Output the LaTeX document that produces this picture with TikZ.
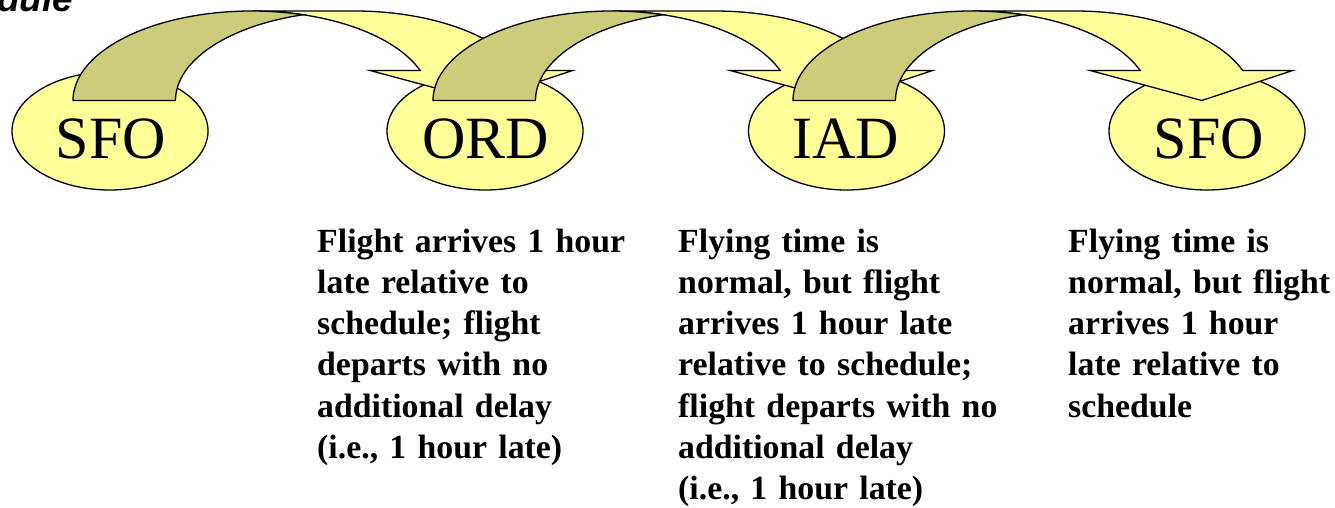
\documentclass[tikz,border=0pt]{standalone}
\usepackage{fontspec}
\setmainfont{Liberation Serif}
\newfontfamily\headfont{Liberation Sans}
\usetikzlibrary{shapes.geometric}
\definecolor{lightyel}{RGB}{255,255,153}
\definecolor{darkyel}{RGB}{204,204,122}
\tikzset{
  apt/.style={ellipse, draw=black, line width=1.3pt, fill=lightyel,
    minimum width=196pt, minimum height=118pt, inner sep=0pt},
  aptlabel/.style={anchor=base, inner sep=0pt, font=\fontsize{60}{60}\selectfont},
  notetext/.style={anchor=base west, inner sep=0pt, text width=360pt, align=left,
    font=\fontsize{33.8}{41.3}\selectfont\bfseries},
  outl/.style={draw=black, line width=1.3pt, line join=miter},
  curvarrow/.pic={
    \path[outl, fill=lightyel] (408.75,-100.5) -- (297.15,-70.5) -- (347.15,-70.5)
      arc[start angle=19.58, end angle=90, x radius=178.75pt, y radius=89.5pt]
      -- (281.25,-11)
      arc[start angle=90, end angle=19.58, x radius=178.75pt, y radius=89.5pt]
      -- (499.65,-70.5) -- cycle;
    \path[outl, fill=darkyel] (0,-100.5)
      arc[start angle=180, end angle=73.34, x radius=178.75pt, y radius=89.5pt]
      arc[start angle=106.66, end angle=180, x radius=178.75pt, y radius=89.5pt]
      -- cycle;
  }
}
\begin{document}
\begin{tikzpicture}[x=1pt, y=1pt]
\path[use as bounding box, fill=white] (0,0) rectangle (1335,-508);
\node[anchor=base west, inner sep=0pt, font={\headfont\fontsize{37}{37}\selectfont\bfseries\itshape}] (title) at (-3,-12) {dule};
% airports
\node[apt] (sfoa) at (110,-131) {};
\node[apt] (ord) at (485,-131) {};
\node[apt] (iad) at (846.5,-131) {};
\node[apt] (sfob) at (1207,-131) {};
% curved arrows
\pic at (73,0) {curvarrow};
\pic at (433,0) {curvarrow};
\pic at (793,0) {curvarrow};
% labels
\node[aptlabel] (sfoat) at (111,-158) {SFO};
\node[aptlabel] (ordt) at (485.5,-158) {ORD};
\node[aptlabel] (iadt) at (846,-158) {IAD};
\node[aptlabel] (sfobt) at (1209,-158) {SFO};
% notes
\node[notetext] (n1) at (317,-252) {Flight arrives 1 hour\\late relative to\\schedule; flight\\departs with no\\additional delay\\(i.e., 1 hour late)};
\node[notetext] (n2) at (678,-252) {Flying time is\\normal, but flight\\arrives 1 hour late\\relative to schedule;\\flight departs with no\\additional delay\\(i.e., 1 hour late)};
\node[notetext] (n3) at (1068,-252) {Flying time is\\normal, but flight\\arrives 1 hour\\late relative to\\schedule};
\end{tikzpicture}
\end{document}
